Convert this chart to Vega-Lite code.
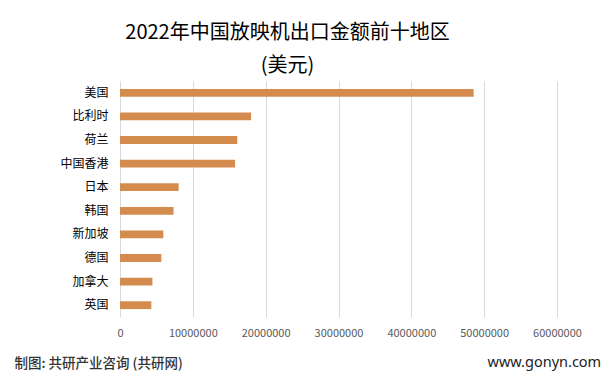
{
  "$schema": "https://vega.github.io/schema/vega-lite/v6.json",
  "autosize": {"type": "none"},
  "width": 437,
  "height": 236,
  "padding": {"left": 120, "top": 81, "right": 58, "bottom": 69},
  "background": "#FFFFFF",
  "title": {
    "text": ["2022年中国放映机出口金额前十地区", "(美元)"],
    "font": "Noto Sans CJK SC",
    "fontSize": 20,
    "fontWeight": "normal",
    "color": "#000000",
    "lineHeight": 33,
    "anchor": "middle",
    "dx": -51,
    "offset": 5
  },
  "data": {
    "values": [
      {"region": "美国", "value": 48550000},
      {"region": "比利时", "value": 18000000},
      {"region": "荷兰", "value": 16100000},
      {"region": "中国香港", "value": 15800000},
      {"region": "日本", "value": 8050000},
      {"region": "韩国", "value": 7350000},
      {"region": "新加坡", "value": 5950000},
      {"region": "德国", "value": 5680000},
      {"region": "加拿大", "value": 4450000},
      {"region": "英国", "value": 4300000}
    ]
  },
  "mark": {"type": "bar", "color": "#D48C4E"},
  "encoding": {
    "y": {
      "field": "region",
      "type": "nominal",
      "sort": null,
      "scale": {"paddingInner": 0.67, "paddingOuter": 0.335},
      "axis": {
        "title": "www.gonyn.com",
        "titleAngle": 0,
        "titleX": 367,
        "titleY": 281,
        "titleAlign": "left",
        "titleBaseline": "middle",
        "titleFont": "Noto Sans",
        "titleFontSize": 14.5,
        "titleFontWeight": "normal",
        "titleColor": "#222222",
        "labelFont": "Noto Sans CJK SC",
        "labelFontSize": 12,
        "labelColor": "#000000",
        "labelPadding": 12,
        "ticks": false,
        "domain": false,
        "grid": false
      }
    },
    "x": {
      "field": "value",
      "type": "quantitative",
      "scale": {"domain": [0, 60000000], "nice": false},
      "axis": {
        "values": [0, 10000000, 20000000, 30000000, 40000000, 50000000, 60000000],
        "format": "d",
        "labelOverlap": false,
        "labelFlush": false,
        "labelBound": false,
        "title": "制图: 共研产业咨询 (共研网)",
        "titleAnchor": "start",
        "titleAlign": "left",
        "titleX": -106,
        "titleY": 46,
        "titleBaseline": "middle",
        "titleFont": "Noto Sans CJK SC",
        "titleFontSize": 13.5,
        "titleFontWeight": 500,
        "titleColor": "#333333",
        "labelFont": "Noto Sans CJK SC",
        "labelFontSize": 11,
        "labelColor": "#595959",
        "labelPadding": 10,
        "ticks": false,
        "domain": false,
        "grid": true,
        "gridColor": "#D9D9D9",
        "gridWidth": 1
      }
    }
  },
  "config": {
    "view": {"stroke": null}
  }
}
